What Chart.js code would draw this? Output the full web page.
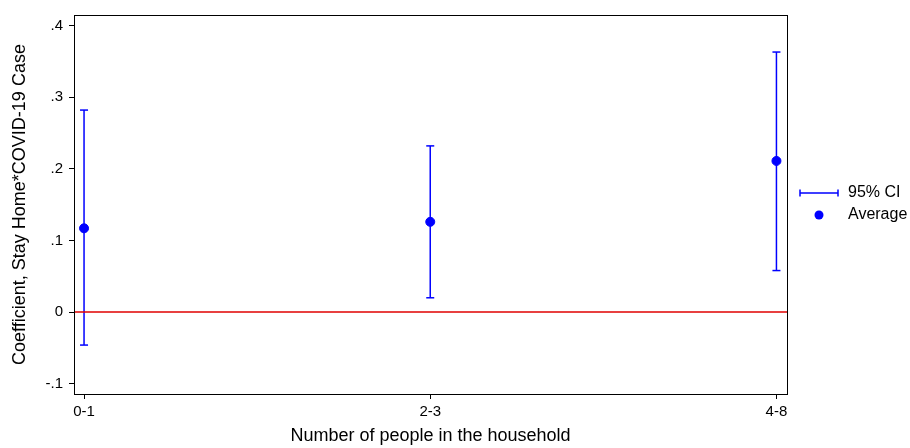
<!DOCTYPE html>
<html>
<head>
<meta charset="utf-8">
<script src="https://cdn.jsdelivr.net/npm/chart.js@4/dist/chart.umd.min.js"></script>
<style>
    html, body { margin: 0; padding: 0; background: #fff; }
    #wrap { width: 910px; height: 448px; }
</style>
</head>
<body>
<div id="wrap"><canvas id="chart" width="910" height="448"></canvas></div>
<script>
// Data
const categories = ['0-1', '2-3', '4-8'];
const averages = [0.117, 0.126, 0.211];
const ciLower = [-0.046, 0.020, 0.058];
const ciUpper = [0.282, 0.232, 0.363];
const yTicks = [-0.1, 0, 0.1, 0.2, 0.3, 0.4];
const yTickLabels = ['-.1', '0', '.1', '.2', '.3', '.4'];

const BLUE = '#0000ff';
const RED = '#e00000';
const FONT = "'Liberation Sans', Arial, sans-serif";

// One dataset per confidence interval, caps drawn as 'line' point style
const ciDatasets = categories.map((c, i) => ({
    type: 'line',
    label: '95% CI',
    data: [{ x: i, y: ciLower[i] }, { x: i, y: ciUpper[i] }],
    borderColor: BLUE,
    borderWidth: 1.5,
    pointStyle: 'line',
    pointRadius: 4,
    pointBorderWidth: 1.5,
    pointBorderColor: BLUE,
    pointHoverRadius: 4,
    fill: false
}));

const xMin = -0.029;
const xMax = 2.0305;

// Frame around the plot + legend
const framePlugin = {
    id: 'frame',
    afterDraw(chart) {
        const { ctx, chartArea: a } = chart;
        ctx.save();
        ctx.strokeStyle = '#000';
        ctx.lineWidth = 1;
        ctx.strokeRect(Math.round(a.left) + 0.5, Math.round(a.top) + 0.5,
            Math.round(a.right - a.left), Math.round(a.bottom - a.top));

        // legend
        const lx = 800, ly1 = 193, ly2 = 215;
        ctx.strokeStyle = BLUE;
        ctx.lineWidth = 1.5;
        ctx.beginPath();
        ctx.moveTo(lx, ly1); ctx.lineTo(lx + 38, ly1);
        ctx.moveTo(lx, ly1 - 3.5); ctx.lineTo(lx, ly1 + 3.5);
        ctx.moveTo(lx + 38, ly1 - 3.5); ctx.lineTo(lx + 38, ly1 + 3.5);
        ctx.stroke();
        ctx.fillStyle = BLUE;
        ctx.beginPath();
        ctx.arc(lx + 19, ly2, 4.5, 0, Math.PI * 2);
        ctx.fill();
        ctx.fillStyle = '#000';
        ctx.font = '16px ' + FONT;
        ctx.textBaseline = 'middle';
        ctx.fillText('95% CI', 848, ly1);
        ctx.fillText('Average', 848, ly2);
        ctx.restore();
    }
};

new Chart(document.getElementById('chart'), {
    type: 'scatter',
    data: {
        datasets: [
            {
                type: 'line',
                label: 'zero',
                data: [{ x: xMin, y: 0 }, { x: xMax, y: 0 }],
                borderColor: RED,
                borderWidth: 1.5,
                pointRadius: 0,
                fill: false
            },
            ...ciDatasets,
            {
                type: 'scatter',
                label: 'Average',
                data: categories.map((c, i) => ({ x: i, y: averages[i] })),
                backgroundColor: BLUE,
                borderColor: BLUE,
                pointRadius: 4.5,
                pointHoverRadius: 4.5
            }
        ]
    },
    options: {
        responsive: false,
        animation: false,
        layout: { padding: { top: 12, right: 123, left: 0, bottom: 0 } },
        plugins: {
            legend: { display: false },
            tooltip: { enabled: false }
        },
        scales: {
            x: {
                type: 'linear',
                min: xMin,
                max: xMax,
                afterBuildTicks: scale => {
                    scale.ticks = categories.map((c, i) => ({ value: i }));
                },
                afterFit: scale => { scale.height = 54; },
                grid: { drawOnChartArea: false, drawTicks: true, tickLength: 5, color: '#000' },
                border: { color: '#000', width: 1 },
                ticks: {
                    color: '#000',
                    font: { family: FONT, size: 15 },
                    padding: 4,
                    maxRotation: 0,
                    callback: v => categories[v]
                },
                title: {
                    display: true,
                    text: 'Number of people in the household',
                    color: '#000',
                    font: { family: FONT, size: 18 },
                    padding: { top: 0, bottom: 1 }
                }
            },
            y: {
                type: 'linear',
                min: -0.1143,
                max: 0.4147,
                afterBuildTicks: scale => {
                    scale.ticks = yTicks.map(v => ({ value: v }));
                },
                afterFit: scale => { scale.width = 74; },
                grid: { drawOnChartArea: false, drawTicks: true, tickLength: 5, color: '#000' },
                border: { color: '#000', width: 1 },
                ticks: {
                    color: '#000',
                    font: { family: FONT, size: 15 },
                    padding: 6,
                    callback: v => yTickLabels[yTicks.findIndex(t => Math.abs(t - v) < 1e-9)]
                },
                title: {
                    display: true,
                    text: 'Coefficient, Stay Home*COVID-19 Case',
                    color: '#000',
                    font: { family: FONT, size: 18 },
                    padding: { top: 9, bottom: 0 }
                }
            }
        }
    },
    plugins: [framePlugin]
});
</script>
</body>
</html>
